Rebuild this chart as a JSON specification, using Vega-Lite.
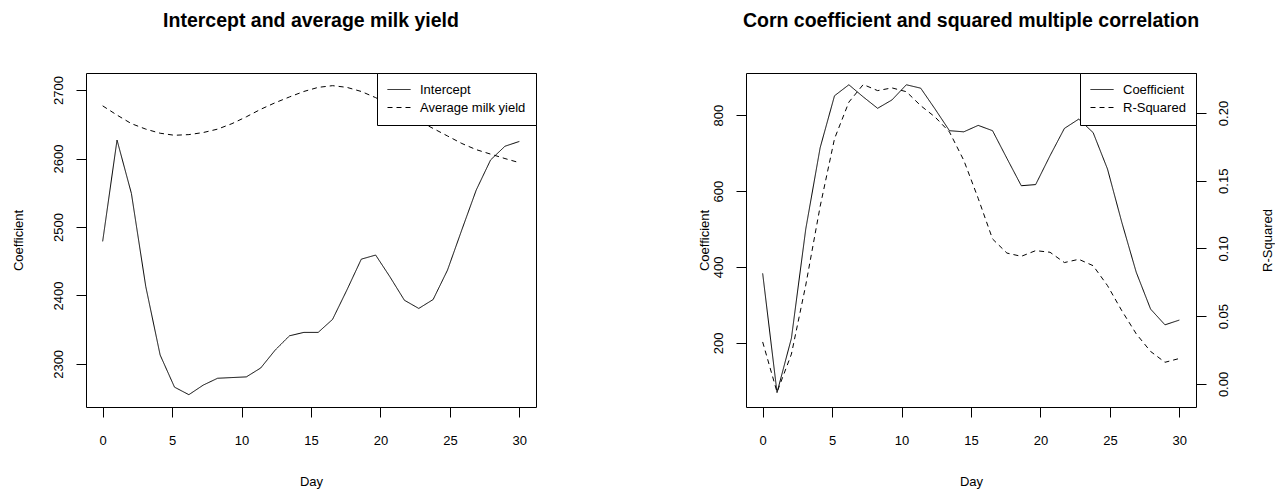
{
  "$schema": "https://vega.github.io/schema/vega-lite/v6.json",
  "background": "white",
  "padding": {"left": 11, "top": 10, "right": 0, "bottom": 0},
  "bounds": "flush",
  "spacing": 210,
  "config": {
    "view": {"stroke": "#000", "strokeWidth": 1},
    "font": "Liberation Sans",
    "axis": {
      "domain": false, "grid": false, "tickColor": "#000", "tickSize": 10, "tickWidth": 1,
      "labelColor": "#000", "labelFontSize": 13, "labelFont": "Liberation Sans",
      "titleFont": "Liberation Sans", "titleFontSize": 13, "titleFontWeight": "normal", "titleColor": "#000"
    },
    "legend": {
      "strokeColor": "#000", "fillColor": "#fff", "padding": 10, "cornerRadius": 0,
      "labelFontSize": 13, "labelFont": "Liberation Sans", "labelColor": "#000",
      "symbolType": "stroke", "symbolSize": 529, "symbolStrokeWidth": 1, "symbolStrokeColor": "#000",
      "labelOffset": 9, "rowPadding": 4, "clipHeight": 13, "offset": 0, "orient": "top-right"
    },
    "title": {"font": "Liberation Sans", "fontSize": 19.5, "fontWeight": "bold", "color": "#000", "anchor": "middle", "baseline": "middle", "offset": 41}
  },
  "resolve": {"scale": {"strokeDash": "independent"}, "legend": {"strokeDash": "independent"}},
  "hconcat": [
    {
      "width": 450, "height": 334,
      "title": "Intercept and average milk yield",
      "data": {"values": [
        {"day": 0, "intercept": 2479, "milk": 2677},
        {"day": 1.0345, "intercept": 2627, "milk": 2663.5},
        {"day": 2.069, "intercept": 2549, "milk": 2651},
        {"day": 3.1034, "intercept": 2413, "milk": 2643},
        {"day": 4.1379, "intercept": 2313, "milk": 2637},
        {"day": 5.1724, "intercept": 2266, "milk": 2634},
        {"day": 6.2069, "intercept": 2255, "milk": 2635},
        {"day": 7.2414, "intercept": 2269, "milk": 2638},
        {"day": 8.2759, "intercept": 2279, "milk": 2643},
        {"day": 9.3103, "intercept": 2280, "milk": 2651},
        {"day": 10.3448, "intercept": 2281, "milk": 2661},
        {"day": 11.3793, "intercept": 2294, "milk": 2672},
        {"day": 12.4138, "intercept": 2320, "milk": 2681.5},
        {"day": 13.4483, "intercept": 2341, "milk": 2690},
        {"day": 14.4828, "intercept": 2346, "milk": 2698},
        {"day": 15.5172, "intercept": 2346, "milk": 2704},
        {"day": 16.5517, "intercept": 2365, "milk": 2706.5},
        {"day": 17.5862, "intercept": 2408, "milk": 2704},
        {"day": 18.6207, "intercept": 2453, "milk": 2698},
        {"day": 19.6552, "intercept": 2459, "milk": 2689},
        {"day": 20.6897, "intercept": 2427, "milk": 2678},
        {"day": 21.7241, "intercept": 2393, "milk": 2666},
        {"day": 22.7586, "intercept": 2381, "milk": 2655},
        {"day": 23.7931, "intercept": 2394, "milk": 2644},
        {"day": 24.8276, "intercept": 2437, "milk": 2633},
        {"day": 25.8621, "intercept": 2496, "milk": 2622},
        {"day": 26.8966, "intercept": 2554, "milk": 2613},
        {"day": 27.931, "intercept": 2598, "milk": 2606.5},
        {"day": 28.9655, "intercept": 2618, "milk": 2600},
        {"day": 30, "intercept": 2625, "milk": 2594}
      ]},
      "encoding": {
        "x": {"field": "day", "type": "quantitative",
          "scale": {"domain": [-1.2, 31.2], "nice": false, "zero": false},
          "axis": {"values": [0, 5, 10, 15, 20, 25, 30], "title": "Day", "labelBaseline": "middle", "labelPadding": 23,
            "titleX": 225, "titleY": 74, "titleBaseline": "middle", "titleAlign": "center"}}
      },
      "layer": [
        {
          "mark": {"type": "line", "color": "#000", "strokeWidth": 1},
          "encoding": {
            "y": {"field": "intercept", "type": "quantitative",
              "scale": {"domain": [2237, 2725], "nice": false, "zero": false},
              "axis": {"values": [2300, 2400, 2500, 2600, 2700], "format": "d", "title": "Coefficient", "labelAngle": -90, "labelAlign": "center", "labelBaseline": "middle", "labelPadding": 18,
                "titleX": -68, "titleY": 167, "titleAngle": -90, "titleBaseline": "middle", "titleAlign": "center"}},
            "strokeDash": {"datum": "Intercept", "type": "nominal",
              "scale": {"domain": ["Intercept", "Average milk yield"], "range": [[1, 0], [5, 4]]},
              "legend": {"title": null}}
          }
        },
        {
          "mark": {"type": "line", "color": "#000", "strokeWidth": 1},
          "encoding": {
            "y": {"field": "milk", "type": "quantitative"},
            "strokeDash": {"datum": "Average milk yield", "type": "nominal"}
          }
        }
      ]
    },
    {
      "width": 450, "height": 334,
      "title": "Corn coefficient and squared multiple correlation",
      "data": {"values": [
        {"day": 0, "coef": 383, "rsq": 0.031},
        {"day": 1.0345, "coef": 69, "rsq": -0.006},
        {"day": 2.069, "coef": 212, "rsq": 0.022},
        {"day": 3.1034, "coef": 500, "rsq": 0.073},
        {"day": 4.1379, "coef": 714, "rsq": 0.131},
        {"day": 5.1724, "coef": 851, "rsq": 0.181},
        {"day": 6.2069, "coef": 880, "rsq": 0.208},
        {"day": 7.2414, "coef": 848, "rsq": 0.221},
        {"day": 8.2759, "coef": 818, "rsq": 0.2165},
        {"day": 9.3103, "coef": 840, "rsq": 0.2185},
        {"day": 10.3448, "coef": 880, "rsq": 0.2157},
        {"day": 11.3793, "coef": 871, "rsq": 0.2054},
        {"day": 12.4138, "coef": 816, "rsq": 0.197},
        {"day": 13.4483, "coef": 759, "rsq": 0.186},
        {"day": 14.4828, "coef": 756, "rsq": 0.165},
        {"day": 15.5172, "coef": 773, "rsq": 0.137},
        {"day": 16.5517, "coef": 759, "rsq": 0.107},
        {"day": 17.5862, "coef": 686, "rsq": 0.0966},
        {"day": 18.6207, "coef": 614, "rsq": 0.0942},
        {"day": 19.6552, "coef": 617, "rsq": 0.0984},
        {"day": 20.6897, "coef": 693, "rsq": 0.0972},
        {"day": 21.7241, "coef": 765, "rsq": 0.0896},
        {"day": 22.7586, "coef": 789.5, "rsq": 0.092},
        {"day": 23.7931, "coef": 754, "rsq": 0.0873},
        {"day": 24.8276, "coef": 658, "rsq": 0.0726},
        {"day": 25.8621, "coef": 517, "rsq": 0.054},
        {"day": 26.8966, "coef": 386, "rsq": 0.037},
        {"day": 27.931, "coef": 289, "rsq": 0.024},
        {"day": 28.9655, "coef": 247.5, "rsq": 0.016},
        {"day": 30, "coef": 260, "rsq": 0.0188}
      ]},
      "encoding": {
        "x": {"field": "day", "type": "quantitative",
          "scale": {"domain": [-1.2, 31.2], "nice": false, "zero": false},
          "axis": {"values": [0, 5, 10, 15, 20, 25, 30], "title": "Day", "labelBaseline": "middle", "labelPadding": 23,
            "titleX": 225, "titleY": 74, "titleBaseline": "middle", "titleAlign": "center"}}
      },
      "layer": [
        {
          "mark": {"type": "line", "color": "#000", "strokeWidth": 1},
          "encoding": {
            "y": {"field": "coef", "type": "quantitative",
              "scale": {"domain": [31, 911], "nice": false, "zero": false},
              "axis": {"values": [200, 400, 600, 800], "format": "d", "title": "Coefficient", "labelAngle": -90, "labelAlign": "center", "labelBaseline": "middle", "labelPadding": 18,
                "titleX": -42, "titleY": 167, "titleAngle": -90, "titleBaseline": "middle", "titleAlign": "center"}},
            "strokeDash": {"datum": "Coefficient", "type": "nominal",
              "scale": {"domain": ["Coefficient", "R-Squared"], "range": [[1, 0], [5, 4]]},
              "legend": {"title": null}}
          }
        },
        {
          "mark": {"type": "line", "color": "#000", "strokeWidth": 1},
          "encoding": {
            "y": {"field": "rsq", "type": "quantitative",
              "scale": {"domain": [-0.017, 0.2295], "nice": false, "zero": false},
              "axis": {"orient": "right", "values": [0, 0.05, 0.1, 0.15, 0.2], "format": ".2f", "title": "R-Squared", "labelAngle": -90, "labelPadding": 11,
                "titleX": 71, "titleY": 167, "titleAngle": -90, "titleBaseline": "middle", "titleAlign": "center"}},
            "strokeDash": {"datum": "R-Squared", "type": "nominal"}
          }
        }
      ],
      "resolve": {"scale": {"y": "independent"}}
    }
  ]
}
